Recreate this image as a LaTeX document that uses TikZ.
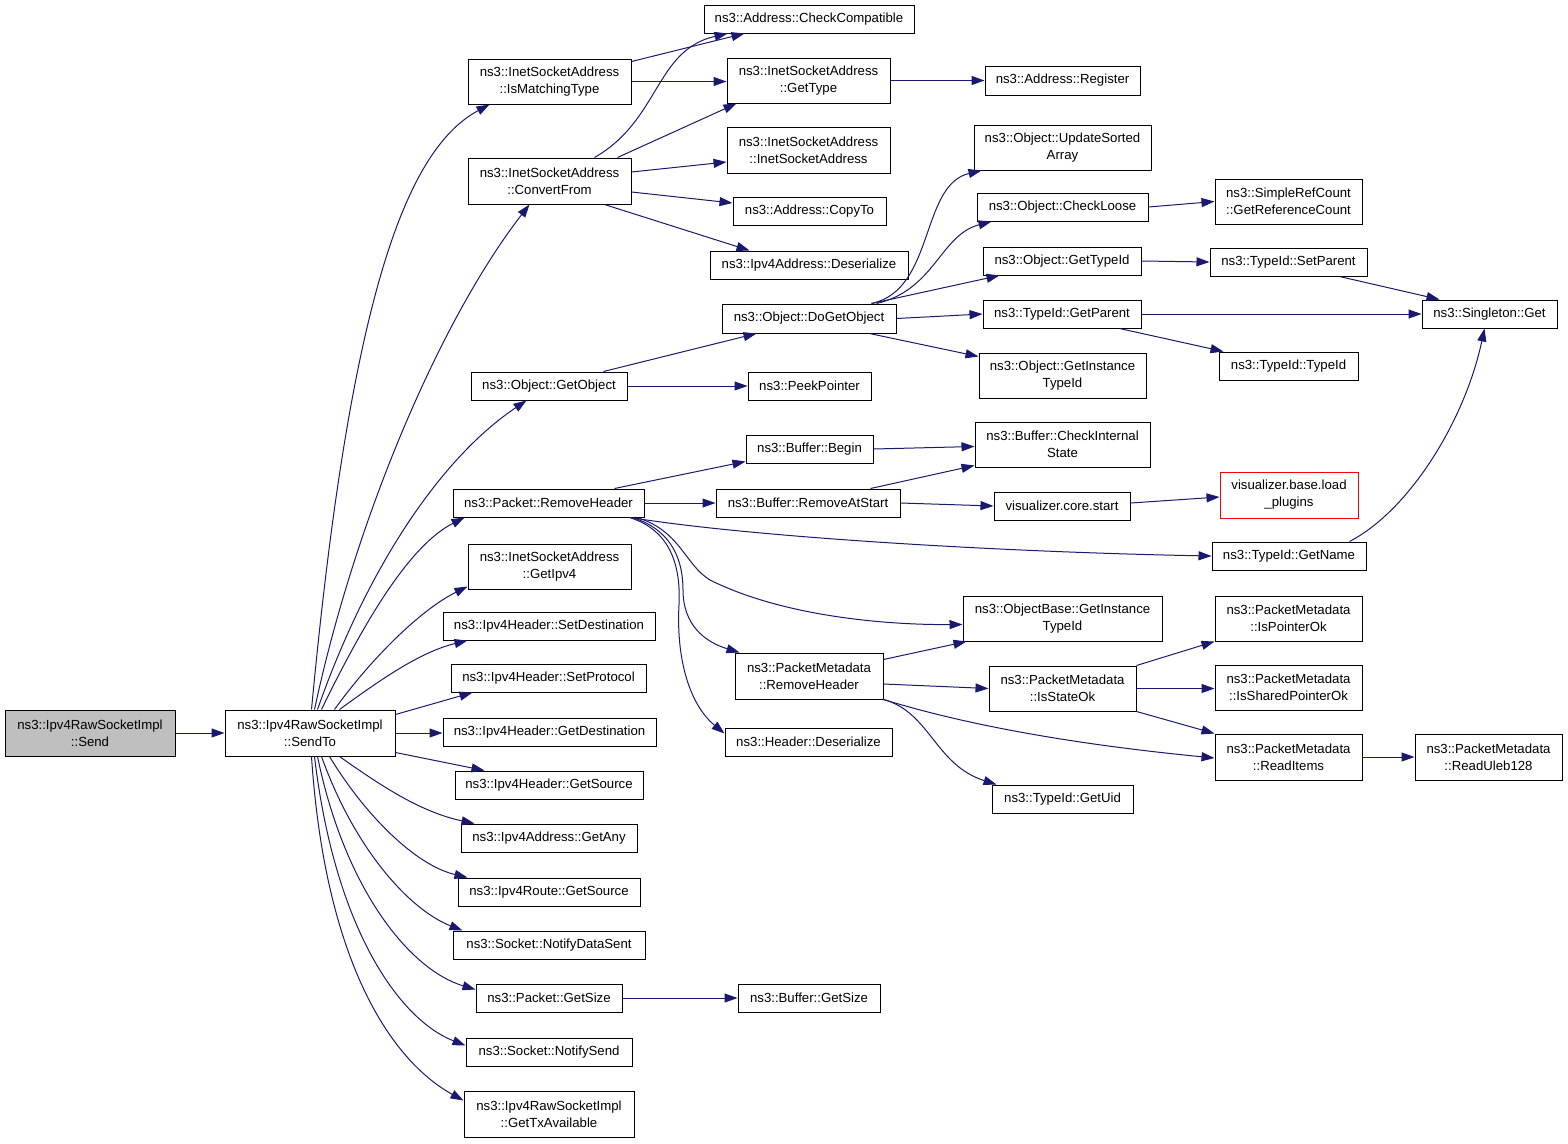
\documentclass[tikz,border=0pt]{standalone}
\usepackage{fontspec}
\setmainfont{Liberation Sans}
\usetikzlibrary{arrows.meta}
\definecolor{edgec}{HTML}{191970}
\definecolor{sendfill}{HTML}{BFBFBF}
\begin{document}
\begin{tikzpicture}[x=1pt,y=-1pt,
  box/.style={draw=black, line width=1pt, inner sep=0pt, align=center, font=\fontsize{13.2}{17}\selectfont},
  cl/.style={draw=edgec, line width=1pt, -{Triangle[length=13pt,width=9pt]}}]
\fill[white] (0,0) rectangle (1568,1143);
\useasboundingbox (0,0) rectangle (1568,1143);
% nodes
\node[box, fill=sendfill, minimum width=170pt, minimum height=46pt] (send) at (90,733) {ns3::Ipv4RawSocketImpl\\::Send};
\node[box, minimum width=170pt, minimum height=46pt] (sendto) at (310,733) {ns3::Ipv4RawSocketImpl\\::SendTo};
\node[box, minimum width=163pt, minimum height=45pt] (ismatch) at (549.5,81.5) {ns3::InetSocketAddress\\::IsMatchingType};
\node[box, minimum width=210pt, minimum height=28pt] (checkcompat) at (809,19) {ns3::Address::CheckCompatible};
\node[box, minimum width=163pt, minimum height=45pt] (gettype) at (808.5,80.5) {ns3::InetSocketAddress\\::GetType};
\node[box, minimum width=163pt, minimum height=46pt] (convertfrom) at (549.5,181) {ns3::InetSocketAddress\\::ConvertFrom};
\node[box, minimum width=163pt, minimum height=46pt] (inetsockaddr) at (808.5,150) {ns3::InetSocketAddress\\::InetSocketAddress};
\node[box, minimum width=153pt, minimum height=28pt] (copyto) at (809.5,211) {ns3::Address::CopyTo};
\node[box, minimum width=198pt, minimum height=28pt] (ipv4deser) at (809,265) {ns3::Ipv4Address::Deserialize};
\node[box, minimum width=155pt, minimum height=29pt] (register) at (1062.5,80.5) {ns3::Address::Register};
\node[box, minimum width=177pt, minimum height=45pt] (updatesorted) at (1062.5,147.5) {ns3::Object::UpdateSorted\\Array};
\node[box, minimum width=171pt, minimum height=28pt] (checkloose) at (1062.5,207) {ns3::Object::CheckLoose};
\node[box, minimum width=147pt, minimum height=45pt] (simpleref) at (1288.5,201.5) {ns3::SimpleRefCount\\::GetReferenceCount};
\node[box, minimum width=158pt, minimum height=28pt] (getobjtypeid) at (1062,261) {ns3::Object::GetTypeId};
\node[box, minimum width=157pt, minimum height=28pt] (setparent) at (1288.5,262) {ns3::TypeId::SetParent};
\node[box, minimum width=174pt, minimum height=29pt] (doget) at (809,318.5) {ns3::Object::DoGetObject};
\node[box, minimum width=158pt, minimum height=28pt] (getparent) at (1062,314) {ns3::TypeId::GetParent};
\node[box, minimum width=135pt, minimum height=28pt] (singleton) at (1489.5,314) {ns3::Singleton::Get};
\node[box, minimum width=167pt, minimum height=45pt] (objgetinst) at (1062.5,375.5) {ns3::Object::GetInstance\\TypeId};
\node[box, minimum width=139pt, minimum height=28pt] (typeidtypeid) at (1288.5,366) {ns3::TypeId::TypeId};
\node[box, minimum width=156pt, minimum height=28pt] (getobject) at (549,386) {ns3::Object::GetObject};
\node[box, minimum width=123pt, minimum height=28pt] (peek) at (809.5,386) {ns3::PeekPointer};
\node[box, minimum width=127pt, minimum height=28pt] (begin) at (809.5,449) {ns3::Buffer::Begin};
\node[box, minimum width=175pt, minimum height=45pt] (checkinternal) at (1062.5,444.5) {ns3::Buffer::CheckInternal\\State};
\node[box, minimum width=191pt, minimum height=28pt] (removeheader) at (548.5,503) {ns3::Packet::RemoveHeader};
\node[box, minimum width=184pt, minimum height=28pt] (removeatstart) at (808,503) {ns3::Buffer::RemoveAtStart};
\node[box, minimum width=136pt, minimum height=28pt] (vcstart) at (1062,506) {visualizer.core.start};
\node[box, draw=red, minimum width=138pt, minimum height=46pt] (vbload) at (1289,495) {visualizer.base.load\\\_plugins};
\node[box, minimum width=154pt, minimum height=28pt] (getname) at (1289,556) {ns3::TypeId::GetName};
\node[box, minimum width=163pt, minimum height=45pt] (getipv4) at (549.5,566.5) {ns3::InetSocketAddress\\::GetIpv4};
\node[box, minimum width=199pt, minimum height=45pt] (objbase) at (1062.5,618.5) {ns3::ObjectBase::GetInstance\\TypeId};
\node[box, minimum width=212pt, minimum height=28pt] (setdest) at (549,626) {ns3::Ipv4Header::SetDestination};
\node[box, minimum width=147pt, minimum height=45pt] (ispointerok) at (1288.5,618.5) {ns3::PacketMetadata\\::IsPointerOk};
\node[box, minimum width=148pt, minimum height=46pt] (pmremove) at (809,676) {ns3::PacketMetadata\\::RemoveHeader};
\node[box, minimum width=147pt, minimum height=45pt] (isstateok) at (1062.5,688.5) {ns3::PacketMetadata\\::IsStateOk};
\node[box, minimum width=147pt, minimum height=45pt] (issharedptr) at (1288.5,687.5) {ns3::PacketMetadata\\::IsSharedPointerOk};
\node[box, minimum width=195pt, minimum height=28pt] (setproto) at (548.5,678) {ns3::Ipv4Header::SetProtocol};
\node[box, minimum width=213pt, minimum height=28pt] (getdest) at (549.5,732) {ns3::Ipv4Header::GetDestination};
\node[box, minimum width=167pt, minimum height=28pt] (headerdeser) at (808.5,742) {ns3::Header::Deserialize};
\node[box, minimum width=147pt, minimum height=46pt] (readitems) at (1288.5,757) {ns3::PacketMetadata\\::ReadItems};
\node[box, minimum width=147pt, minimum height=46pt] (readuleb) at (1488.5,757) {ns3::PacketMetadata\\::ReadUleb128};
\node[box, minimum width=188pt, minimum height=28pt] (getsource) at (549,785) {ns3::Ipv4Header::GetSource};
\node[box, minimum width=141pt, minimum height=28pt] (getuid) at (1062.5,799) {ns3::TypeId::GetUid};
\node[box, minimum width=176pt, minimum height=28pt] (getany) at (549,838) {ns3::Ipv4Address::GetAny};
\node[box, minimum width=182pt, minimum height=28pt] (routegetsource) at (549,892) {ns3::Ipv4Route::GetSource};
\node[box, minimum width=192pt, minimum height=28pt] (notifydatasent) at (549,945) {ns3::Socket::NotifyDataSent};
\node[box, minimum width=146pt, minimum height=28pt] (packetgetsize) at (549,998) {ns3::Packet::GetSize};
\node[box, minimum width=142pt, minimum height=28pt] (buffergetsize) at (809,998) {ns3::Buffer::GetSize};
\node[box, minimum width=166pt, minimum height=28pt] (notifysend) at (549,1052) {ns3::Socket::NotifySend};
\node[box, minimum width=170pt, minimum height=46pt] (gettxavail) at (549,1114) {ns3::Ipv4RawSocketImpl\\::GetTxAvailable};
% edges from SendTo
\draw[cl] (send.east) -- (sendto.west);
\draw[cl] ([xshift=87pt]sendto.north west) .. controls (350,300) and (405,150) .. ([xshift=22pt]ismatch.south west);
\draw[cl] ([xshift=90pt]sendto.north west) .. controls (355,520) and (440,320) .. ([xshift=62pt]convertfrom.south west);
\draw[cl] ([xshift=93pt]sendto.north west) .. controls (370,560) and (445,455) .. ([xshift=56pt]getobject.south west);
\draw[cl] ([xshift=97pt]sendto.north west) .. controls (365,620) and (410,545) .. ([xshift=12pt]removeheader.south west);
\draw[cl] ([xshift=110pt]sendto.north west) .. controls (370,660) and (420,610) .. ([yshift=3pt]getipv4.south west);
\draw[cl] ([xshift=115pt]sendto.north west) .. controls (380,680) and (420,652) .. ([xshift=25pt]setdest.south west);
\draw[cl] ([yshift=-5pt]sendto.north east) -- ([xshift=22pt]setproto.south west);
\draw[cl] (sendto.east) -- (sendto.east -| getdest.west);
\draw[cl] ([yshift=4pt]sendto.south east) -- ([xshift=30pt]getsource.north west);
\draw[cl] ([xshift=115pt]sendto.south west) .. controls (380,785) and (420,812) .. ([xshift=14pt]getany.north west);
\draw[cl] ([xshift=105pt]sendto.south west) .. controls (365,815) and (415,865) .. ([xshift=10pt]routegetsource.north west);
\draw[cl] ([xshift=97pt]sendto.south west) .. controls (355,850) and (410,910) .. ([xshift=10pt]notifydatasent.north west);
\draw[cl] ([xshift=93pt]sendto.south west) .. controls (345,890) and (410,970) .. ([yshift=-6pt]packetgetsize.north west);
\draw[cl] ([xshift=90pt]sendto.south west) .. controls (335,930) and (400,1020) .. ([yshift=-8pt]notifysend.north west);
\draw[cl] ([xshift=87pt]sendto.south west) .. controls (325,960) and (390,1060) .. ([yshift=-10pt]gettxavail.north west);
% second level
\draw[cl] ([yshift=-3pt]ismatch.north east) -- ([xshift=41pt]checkcompat.south west);
\draw[cl] (ismatch.east) -- (ismatch.east -| gettype.west);
\draw[cl] ([xshift=127pt]convertfrom.north west) .. controls (660,120) and (655,50) .. ([xshift=24pt]checkcompat.south west);
\draw[cl] ([xshift=150pt]convertfrom.north west) -- ([xshift=10pt]gettype.south west);
\draw[cl] ([yshift=9pt]convertfrom.east) -- ([yshift=-12pt]inetsockaddr.west);
\draw[cl] ([yshift=-11pt]convertfrom.east) -- ([yshift=8pt]copyto.west);
\draw[cl] ([xshift=137pt]convertfrom.south west) -- ([xshift=40pt]ipv4deser.north west);
\draw[cl] (gettype.east) -- (gettype.east -| register.west);
\draw[cl] ([xshift=133pt]getobject.north west) -- ([xshift=35pt]doget.south west);
\draw[cl] (getobject.east) -- (peek.west);
\draw[cl] ([xshift=150pt]doget.north west) .. controls (935,290) and (920,185) .. ([xshift=8pt]updatesorted.south west);
\draw[cl] ([xshift=155pt]doget.north west) .. controls (935,290) and (940,235) .. ([xshift=15pt]checkloose.south west);
\draw[cl] ([xshift=150pt]doget.north west) -- ([xshift=17pt]getobjtypeid.south west);
\draw[cl] (doget.east) -- (getparent.west);
\draw[cl] ([xshift=148pt]doget.south west) -- ([yshift=-4pt]objgetinst.north west);
\draw[cl] (checkloose.east) -- (simpleref.west);
\draw[cl] (getobjtypeid.east) -- (setparent.west);
\draw[cl] ([xshift=130pt]setparent.south west) -- ([xshift=18pt]singleton.north west);
\draw[cl] (getparent.east) -- (getparent.east -| singleton.west);
\draw[cl] ([xshift=137pt]getparent.south west) -- ([xshift=5pt]typeidtypeid.north west);
\draw[cl] ([xshift=162pt]removeheader.north west) -- ([yshift=2pt]begin.south west);
\draw[cl] (removeheader.east) -- (removeatstart.west);
\draw[cl] ([xshift=-14pt]removeheader.south east) .. controls (750,537) and (1000,552) .. (getname.west);
\draw[cl] ([xshift=-8pt]removeheader.south east) .. controls (680,530) and (685,565) .. (710,580) .. controls (780,615) and (880,625) .. ([yshift=-6pt]objbase.west);
\draw[cl] ([xshift=-12pt]removeheader.south east) .. controls (672,530) and (683,560) .. (683,590) .. controls (683,625) and (705,642) .. ([xshift=5pt]pmremove.north west);
\draw[cl] ([xshift=-15pt]removeheader.south east) .. controls (670,530) and (681,565) .. (679,605) .. controls (676,660) and (690,705) .. ([yshift=-6pt]headerdeser.north west);
\draw[cl] (begin.east) -- ([yshift=-2pt]checkinternal.west);
\draw[cl] ([xshift=155pt]removeatstart.north west) -- ([yshift=2pt]checkinternal.south west);
\draw[cl] (removeatstart.east) -- (vcstart.west);
\draw[cl] ([yshift=3pt]vcstart.east) -- ([yshift=-2pt]vbload.west);
\draw[cl] ([xshift=138pt]getname.north west) .. controls (1410,510) and (1465,420) .. ([xshift=-5pt]singleton.south);
\draw[cl] ([yshift=-7pt]pmremove.north east) -- ([xshift=4pt]objbase.south west);
\draw[cl] ([yshift=-8pt]pmremove.east) -- (isstateok.west);
\draw[cl] (pmremove.south east) .. controls (950,720) and (1050,742) .. ([yshift=-1pt]readitems.west);
\draw[cl] (pmremove.south east) .. controls (930,712) and (935,765) .. ([xshift=5pt]getuid.north west);
\draw[cl] (isstateok.north east) -- (ispointerok.south west);
\draw[cl] (isstateok.east) -- (isstateok.east -| issharedptr.west);
\draw[cl] (isstateok.south east) -- (readitems.north west);
\draw[cl] (readitems.east) -- (readuleb.west);
\draw[cl] (packetgetsize.east) -- (buffergetsize.west);
\end{tikzpicture}
\end{document}
